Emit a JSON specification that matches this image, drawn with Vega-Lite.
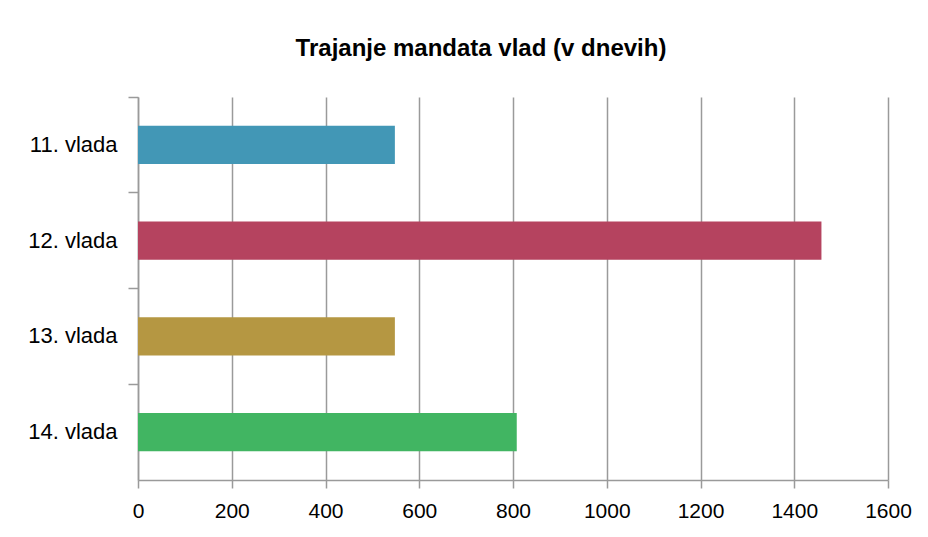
{
  "$schema": "https://vega.github.io/schema/vega-lite/v6.json",
  "autosize": "none",
  "width": 750,
  "height": 383,
  "padding": {"left": 138, "top": 97, "right": 40, "bottom": 57},
  "background": "white",
  "data": {"values": [
    {"vlada": "11. vlada", "dni": 548},
    {"vlada": "12. vlada", "dni": 1458},
    {"vlada": "13. vlada", "dni": 548},
    {"vlada": "14. vlada", "dni": 808}
  ]},
  "title": {
    "text": "Trajanje mandata vlad (v dnevih)",
    "font": "Liberation Sans",
    "fontSize": 24,
    "fontWeight": "bold",
    "color": "#000000",
    "anchor": "middle",
    "dx": -32,
    "offset": 35
  },
  "mark": {"type": "bar", "height": {"band": 0.4}},
  "encoding": {
    "y": {
      "field": "vlada",
      "type": "nominal",
      "sort": null,
      "scale": {"paddingInner": 0, "paddingOuter": 0},
      "axis": {
        "title": null,
        "bandPosition": 0,
        "domainColor": "#9a9a9a",
        "domainWidth": 1.5,
        "tickColor": "#9a9a9a",
        "tickWidth": 1.5,
        "tickSize": 10,
        "labelFont": "Liberation Sans",
        "labelFontSize": 22,
        "labelColor": "#000000",
        "labelPadding": 11,
        "grid": false
      }
    },
    "x": {
      "field": "dni",
      "type": "quantitative",
      "scale": {"domain": [0, 1600], "nice": false},
      "axis": {
        "title": null,
        "values": [0, 200, 400, 600, 800, 1000, 1200, 1400, 1600],
        "format": "d",
        "grid": true,
        "gridColor": "#9a9a9a",
        "gridWidth": 1.5,
        "domainColor": "#9a9a9a",
        "domainWidth": 1.5,
        "tickColor": "#9a9a9a",
        "tickWidth": 1.5,
        "tickSize": 8,
        "labelFont": "Liberation Sans",
        "labelFontSize": 21,
        "labelColor": "#000000",
        "labelPadding": 12,
        "labelFlush": false
      }
    },
    "color": {
      "field": "vlada",
      "type": "nominal",
      "sort": null,
      "scale": {
        "domain": ["11. vlada", "12. vlada", "13. vlada", "14. vlada"],
        "range": ["#4297B6", "#B5435F", "#B59742", "#41B562"]
      },
      "legend": null
    }
  },
  "config": {"view": {"stroke": null}}
}
